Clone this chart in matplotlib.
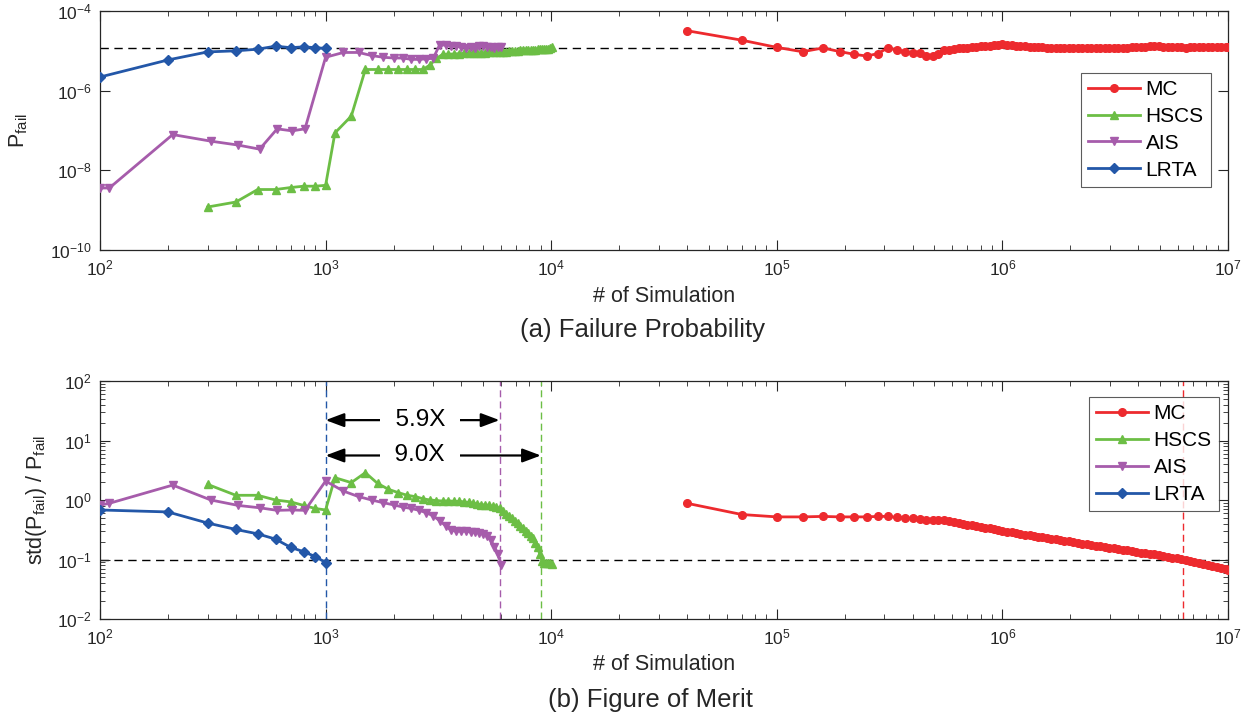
import matplotlib
matplotlib.use("Agg")
import matplotlib.pyplot as plt
from matplotlib.ticker import LogLocator, NullLocator, NullFormatter

plt.rcParams['font.family'] = ['Liberation Sans', 'DejaVu Sans']
plt.rcParams['mathtext.fontset'] = 'custom'
plt.rcParams['mathtext.rm'] = 'Liberation Sans'
plt.rcParams['mathtext.it'] = 'Liberation Sans:italic'
plt.rcParams['mathtext.bf'] = 'Liberation Sans:bold'
plt.rcParams['axes.unicode_minus'] = False

# ---------------- data ----------------
lrta_x = [100, 200, 300, 400, 500, 600, 700, 800, 900, 1000]
lrta_pfail = [2.2e-6, 5.9e-6, 9.4e-6, 1.0e-5, 1.1e-5, 1.31e-5, 1.2e-5, 1.26e-5, 1.2e-5, 1.15e-5]
lrta_fom = [0.68, 0.63, 0.41, 0.32, 0.27, 0.22, 0.16, 0.135, 0.112, 0.089]

ais_x = [100, 110, 210, 310, 410, 510, 610, 710, 810, 1000,
         1200, 1400, 1600, 1800, 2000, 2200, 2400, 2600, 2800, 3000,
         3200, 3400, 3600, 3800, 4000, 4200, 4400, 4600, 4800, 5000,
         5200, 5400, 5600, 5800, 6000]
ais_pfail = [3.6e-9, 3.6e-9, 7.9e-8, 5.4e-8, 4.3e-8, 3.4e-8, 1.1e-7, 9.8e-8, 1.1e-7, 6.9e-6,
             9.1e-6, 9.1e-6, 7.6e-6, 6.9e-6, 6.6e-6, 6.6e-6, 6.1e-6, 6.1e-6, 6.3e-6, 6.5e-6,
             1.4e-5, 1.4e-5, 1.35e-5, 1.3e-5, 1.25e-5, 1.2e-5, 1.25e-5, 1.15e-5, 1.3e-5, 1.3e-5,
             1.25e-5, 1.25e-5, 1.2e-5, 1.25e-5, 1.25e-5]
ais_fom = [0.82, 0.88, 1.78, 1.0, 0.81, 0.74, 0.67, 0.68, 0.67, 2.08,
           1.41, 1.14, 1.0, 0.9, 0.83, 0.76, 0.72, 0.67, 0.61, 0.54,
           0.45, 0.37, 0.31, 0.30, 0.30, 0.30, 0.29, 0.29, 0.28, 0.27,
           0.25, 0.21, 0.165, 0.125, 0.08]

hscs_x = [300, 400, 500, 600, 700, 800, 900, 1000,
          1100, 1300, 1500, 1700, 1900, 2100, 2300, 2500, 2700, 2900,
          3100, 3300, 3500, 3700, 3900, 4100, 4300, 4500, 4700, 4900,
          5100, 5300, 5500, 5700, 5900, 6100, 6300, 6500, 6700, 6900,
          7100, 7300, 7500, 7700, 7900, 8100, 8300, 8500, 8700, 8900,
          9100, 9300, 9500, 9700, 9900, 10100]
hscs_pfail = [1.2e-9, 1.6e-9, 3.3e-9, 3.3e-9, 3.7e-9, 4.0e-9, 4.0e-9, 4.2e-9,
              8.7e-8, 2.3e-7, 3.4e-6, 3.4e-6, 3.4e-6, 3.4e-6, 3.4e-6, 3.4e-6, 3.4e-6, 4.4e-6,
              6.5e-6, 8.1e-6, 8.3e-6, 8.3e-6, 8.5e-6, 8.6e-6, 8.6e-6, 8.8e-6, 8.9e-6, 9.0e-6,
              9.0e-6, 9.2e-6, 9.3e-6, 9.3e-6, 9.5e-6, 9.6e-6, 9.6e-6, 9.8e-6, 9.9e-6, 1.0e-5,
              1.0e-5, 1.02e-5, 1.03e-5, 1.04e-5, 1.05e-5, 1.05e-5, 1.07e-5, 1.08e-5, 1.09e-5, 1.1e-5,
              1.1e-5, 1.12e-5, 1.13e-5, 1.14e-5, 1.15e-5, 1.22e-5]
hscs_fom = [1.83, 1.2, 1.2, 1.0, 0.93, 0.81, 0.72, 0.68,
            2.37, 1.96, 2.88, 1.9, 1.51, 1.33, 1.2, 1.14, 1.05, 1.0,
            0.98, 0.96, 0.97, 0.95, 0.95, 0.93, 0.91, 0.88, 0.86, 0.83,
            0.83, 0.81, 0.78, 0.76, 0.73, 0.65, 0.59, 0.54, 0.49, 0.45,
            0.41, 0.37, 0.335, 0.30, 0.276, 0.25, 0.226, 0.193, 0.16, 0.123,
            0.095, 0.089, 0.087, 0.086, 0.086, 0.085]

mc_x = [4e4, 7e4, 1.0e5, 1.3e5, 1.6e5, 1.9e5, 2.2e5, 2.5e5, 2.8e5, 3.1e5,
        3.4e5, 3.7e5, 4.0e5, 4.3e5, 4.6e5, 4.9e5, 5.2e5, 5.5e5, 5.8e5, 6.1e5,
        6.4e5, 6.7e5, 7.0e5,
        7.3e5, 7.6e5, 8.0e5, 8.4e5, 8.8e5, 9.2e5, 9.6e5,
        1.0e6, 1.05e6, 1.1e6, 1.15e6, 1.2e6, 1.26e6, 1.32e6, 1.38e6, 1.44e6, 1.5e6,
        1.57e6, 1.64e6, 1.72e6, 1.8e6, 1.88e6, 1.97e6, 2.06e6, 2.16e6, 2.26e6, 2.37e6,
        2.48e6, 2.6e6, 2.72e6, 2.85e6, 2.98e6, 3.12e6, 3.27e6, 3.42e6, 3.58e6, 3.75e6,
        3.93e6, 4.11e6, 4.3e6, 4.5e6, 4.71e6, 4.93e6, 5.16e6, 5.4e6, 5.65e6, 5.92e6,
        6.2e6, 6.49e6, 6.79e6, 7.1e6, 7.43e6, 7.78e6, 8.14e6, 8.52e6, 8.92e6, 9.34e6,
        9.77e6, 1.0e7]
mc_pfail = [3.2e-5, 1.85e-5, 1.22e-5, 9.5e-6, 1.18e-5, 9.6e-6, 8.2e-6, 7.4e-6, 8.5e-6, 1.18e-5,
            1.05e-5, 9.6e-6, 9.0e-6, 8.6e-6, 7.6e-6, 7.5e-6, 8.4e-6, 1.02e-5, 1.08e-5, 1.12e-5,
            1.15e-5, 1.18e-5, 1.2e-5,
            1.22e-5, 1.25e-5, 1.3e-5, 1.32e-5, 1.35e-5, 1.38e-5, 1.42e-5,
            1.45e-5, 1.43e-5, 1.4e-5, 1.36e-5, 1.33e-5, 1.3e-5, 1.27e-5, 1.25e-5, 1.24e-5, 1.22e-5,
            1.21e-5, 1.2e-5, 1.2e-5, 1.19e-5, 1.2e-5, 1.21e-5, 1.2e-5, 1.18e-5, 1.17e-5, 1.16e-5,
            1.17e-5, 1.18e-5, 1.17e-5, 1.16e-5, 1.15e-5, 1.16e-5, 1.17e-5, 1.19e-5, 1.2e-5, 1.22e-5,
            1.24e-5, 1.26e-5, 1.28e-5, 1.3e-5, 1.3e-5, 1.29e-5, 1.27e-5, 1.25e-5, 1.23e-5, 1.22e-5,
            1.22e-5, 1.21e-5, 1.22e-5, 1.23e-5, 1.24e-5, 1.25e-5, 1.26e-5, 1.27e-5, 1.28e-5, 1.28e-5,
            1.27e-5, 1.26e-5]
mc_fom = [0.88, 0.57, 0.52, 0.52, 0.53, 0.52, 0.52, 0.52, 0.53, 0.53,
          0.51, 0.50, 0.49, 0.48, 0.47, 0.47, 0.46, 0.46, 0.44, 0.425,
          0.41, 0.40, 0.385,
          0.376, 0.366, 0.353, 0.342, 0.332, 0.322, 0.313,
          0.304, 0.294, 0.286, 0.277, 0.271, 0.263, 0.255, 0.249, 0.243, 0.237,
          0.230, 0.224, 0.218, 0.212, 0.207, 0.201, 0.196, 0.190, 0.185, 0.180,
          0.175, 0.171, 0.166, 0.162, 0.158, 0.154, 0.150, 0.146, 0.142, 0.138,
          0.135, 0.131, 0.128, 0.126, 0.122, 0.118, 0.115, 0.111, 0.108, 0.105,
          0.102, 0.098, 0.094, 0.090, 0.087, 0.083, 0.080, 0.077, 0.074, 0.071,
          0.068, 0.066]

pfail_target = 1.2e-5
fom_target = 0.1
reach_lrta, reach_ais, reach_hscs, reach_mc = 1000, 5900, 9000, 6.3e6
speedup_ais, speedup_hscs = "5.9X", "9.0X"
arrow_y_ais, arrow_y_hscs = 22.0, 5.6
label_x = 2620

series_names = ["MC", "HSCS", "AIS", "LRTA"]
colors = {"MC": "#ED2A2E", "HSCS": "#6CBE45", "AIS": "#A65CAB", "LRTA": "#2357A8"}
markers = {"MC": "o", "HSCS": "^", "AIS": "v", "LRTA": "D"}
msizes = {"MC": 5.5, "HSCS": 6.0, "AIS": 6.0, "LRTA": 5.0}

top_data = {"MC": (mc_x, mc_pfail), "HSCS": (hscs_x, hscs_pfail),
            "AIS": (ais_x, ais_pfail), "LRTA": (lrta_x, lrta_pfail)}
bot_data = {"MC": (mc_x, mc_fom), "HSCS": (hscs_x, hscs_fom),
            "AIS": (ais_x, ais_fom), "LRTA": (lrta_x, lrta_fom)}

# ---------------- figure ----------------
W, H = 1256, 720
fig = plt.figure(figsize=(W / 100, H / 100), dpi=100)
ax1 = fig.add_axes([100 / W, 1 - 250 / H, 1128 / W, 239 / H])
ax2 = fig.add_axes([100 / W, 1 - 619 / H, 1128 / W, 238 / H])

axcol = '#262626'


def style(ax):
    ax.set_xscale('log')
    ax.set_yscale('log')
    ax.set_xlim(1e2, 1e7)
    ax.xaxis.set_major_locator(LogLocator(base=10, numticks=20))
    ax.xaxis.set_minor_locator(LogLocator(base=10, subs=range(2, 10), numticks=100))
    ax.xaxis.set_minor_formatter(NullFormatter())
    ax.tick_params(which='both', direction='in', top=True, right=True,
                   colors=axcol, labelsize=12.5, pad=6)
    ax.tick_params(which='major', length=7, width=0.8)
    ax.tick_params(which='minor', length=3.5, width=0.6)
    for s in ax.spines.values():
        s.set_color(axcol)
        s.set_linewidth(0.9)


style(ax1)
style(ax2)


def make_legend(ax, anchor):
    leg = ax.legend(loc='upper right', bbox_to_anchor=anchor, fontsize=15,
                    frameon=True, fancybox=False, handlelength=2.5, handletextpad=0.25,
                    borderpad=0.35, labelspacing=0.38, borderaxespad=0)
    leg.get_frame().set_edgecolor('#333333')
    leg.get_frame().set_linewidth(0.8)
    return leg


# top panel
ax1.set_ylim(1e-10, 1e-4)
ax1.set_yticks([1e-10, 1e-8, 1e-6, 1e-4])
ax1.yaxis.set_minor_locator(NullLocator())
ax1.axhline(pfail_target, color='black', lw=1.0, dashes=(6, 4), zorder=1)
for name in series_names:
    x, y = top_data[name]
    ax1.plot(x, y, color=colors[name], marker=markers[name], ms=msizes[name],
             lw=2.0, label=name, zorder=3)
make_legend(ax1, (0.985, 0.742))
ax1.set_ylabel(r'P$_{\mathrm{fail}}$', fontsize=15.5, color=axcol)
ax1.yaxis.set_label_coords(-0.062, 0.5)

# bottom panel
ax2.set_ylim(1e-2, 1e2)
ax2.yaxis.set_major_locator(LogLocator(base=10, numticks=20))
ax2.yaxis.set_minor_locator(LogLocator(base=10, subs=range(2, 10), numticks=100))
ax2.yaxis.set_minor_formatter(NullFormatter())
ax2.axhline(fom_target, color='black', lw=1.0, dashes=(6, 4), zorder=1)
for xv, name in [(reach_lrta, "LRTA"), (reach_ais, "AIS"), (reach_hscs, "HSCS"), (reach_mc, "MC")]:
    ax2.axvline(xv, color=colors[name], lw=1.0, dashes=(5, 3), zorder=2)
for name in series_names:
    x, y = bot_data[name]
    ax2.plot(x, y, color=colors[name], marker=markers[name], ms=msizes[name],
             lw=2.0, label=name, zorder=3)
make_legend(ax2, (0.992, 0.933))
ax2.set_ylabel(r'std(P$_{\mathrm{fail}}$) / P$_{\mathrm{fail}}$', fontsize=15.5, color=axcol)
ax2.yaxis.set_label_coords(-0.045, 0.5)

# speed-up arrows
for xend, yv, txt in [(reach_ais, arrow_y_ais, speedup_ais), (reach_hscs, arrow_y_hscs, speedup_hscs)]:
    ax2.annotate('', xy=(xend, yv), xytext=(reach_lrta, yv),
                 arrowprops=dict(arrowstyle='<|-|>,head_length=0.8,head_width=0.3',
                                 color='black', lw=1.6, shrinkA=0, shrinkB=0,
                                 mutation_scale=14), zorder=4)
    ax2.text(label_x, yv, '  ' + txt + '  ', fontsize=17.5, ha='center', va='center',
             color='black', zorder=5,
             bbox=dict(boxstyle='square,pad=0.05', fc='white', ec='none'))

# labels
fig.text(664 / W, 1 - 297 / H, '# of Simulation', fontsize=15.5, ha='center', va='center', color=axcol)
fig.text(664 / W, 1 - 665 / H, '# of Simulation', fontsize=15.5, ha='center', va='center', color=axcol)
fig.text(642 / W, 1 - 330 / H, '(a) Failure Probability', fontsize=18.5, ha='center', va='center', color=axcol)
fig.text(650 / W, 1 - 700 / H, '(b) Figure of Merit', fontsize=18.5, ha='center', va='center', color=axcol)

fig.savefig('out.png', dpi=100)
